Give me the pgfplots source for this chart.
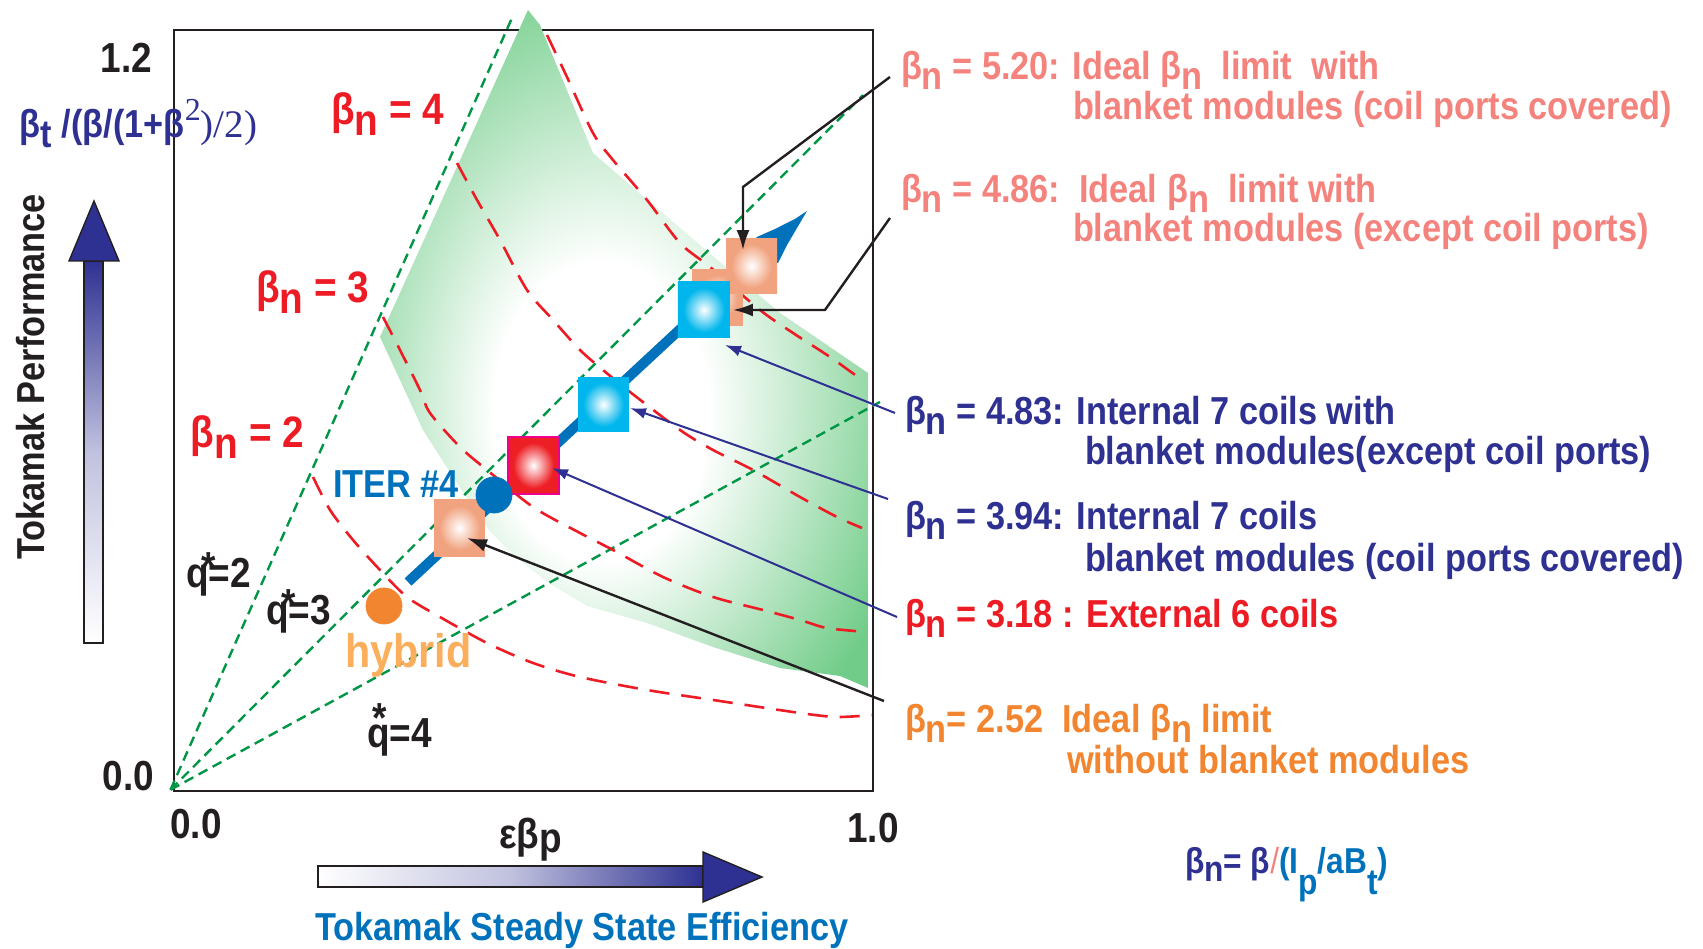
\documentclass[border=0pt]{standalone}
\usepackage{pgfplots}
\pgfplotsset{compat=1.18}
\usepackage{fontspec}
\setmainfont{Liberation Sans}[FakeStretch=0.88]
\newfontfamily\seriffont{Liberation Serif}
\usetikzlibrary{arrows.meta}

\definecolor{salmon}{RGB}{244,130,125}
\definecolor{navy}{RGB}{46,49,146}
\definecolor{redt}{RGB}{237,28,36}
\definecolor{oranget}{RGB}{242,133,48}
\definecolor{hybridc}{RGB}{251,175,93}
\definecolor{iterblue}{RGB}{0,114,188}
\definecolor{gdash}{RGB}{0,150,70}
\definecolor{gshade}{RGB}{112,204,136}
\definecolor{palesq}{RGB}{241,162,126}
\definecolor{cyansq}{RGB}{0,182,236}
\definecolor{redsq}{RGB}{237,30,36}
\definecolor{magb}{RGB}{236,0,140}
\definecolor{axgray}{RGB}{35,31,32}

\pgfdeclareradialshading{greenreg}{\pgfpoint{-3bp}{-6bp}}{color(0bp)=(white); color(11bp)=(white); color(32bp)=(gshade); color(50bp)=(gshade)}
\pgfdeclareradialshading{sqpale}{\pgfpoint{0bp}{0bp}}{color(0bp)=(white); color(20bp)=(palesq); color(50bp)=(palesq)}
\pgfdeclareradialshading{sqcyan}{\pgfpoint{0bp}{0bp}}{color(0bp)=(white); color(20bp)=(cyansq); color(50bp)=(cyansq)}
\pgfdeclareradialshading{sqred}{\pgfpoint{0bp}{0bp}}{color(0bp)=(white); color(20bp)=(redsq); color(50bp)=(redsq)}

\newcommand\fs[1]{\fontsize{#1}{#1}\selectfont\bfseries}
\newcommand\bn{β\raisebox{-0.25em}{n}}

\begin{document}
\begin{tikzpicture}
\useasboundingbox (-87pt,-78.5pt) rectangle (764.5pt,395.5pt);
\begin{axis}[
  at={(0,0)}, anchor=south west,
  scale only axis, width=349.5pt, height=380.5pt,
  xmin=0, xmax=1, ymin=0, ymax=1.25,
  xtick=\empty, ytick=\empty,
  axis line style={line width=1pt, color=axgray},
  clip=false, no markers,
]
% green operating region
\addplot[draw=none, shading=greenreg] coordinates {
 (0.5064,1.2829) (0.5236,1.2582) (0.5994,1.0480) (0.7525,0.8968) (0.8670,0.7852)
 (0.9928,0.6866) (0.9928,0.1692) (0.9528,0.1889) (0.8670,0.2020) (0.7711,0.2365)
 (0.6767,0.2760) (0.5908,0.3039) (0.5336,0.3433) (0.4850,0.3876) (0.4478,0.4320)
 (0.4020,0.5108) (0.3562,0.5930) (0.3233,0.6751) (0.2947,0.7457)} -- cycle;

% q* lines
\addplot[gdash, line width=1.2pt, dash pattern=on 5pt off 3pt] coordinates {(-0.005,0.002) (0.4835,1.2697)};
\addplot[gdash, line width=1.2pt, dash pattern=on 5pt off 3pt] coordinates {(-0.005,0.002) (0.9857,1.1432)};
\addplot[gdash, line width=1.2pt, dash pattern=on 5pt off 3pt] coordinates {(-0.005,0.002) (1.010,0.639)};

% beta_n contours
\addplot[redt, line width=1.3pt, dash pattern=on 10pt off 6pt, smooth] coordinates {
 (0.5336,1.2418) (0.5622,1.1728) (0.5994,1.0808) (0.6280,1.0365) (0.6767,0.9708)
 (0.7239,0.9001) (0.7668,0.8607) (0.8383,0.7901) (0.8856,0.7523) (0.9385,0.7129) (0.9843,0.6751)};
\addplot[redt, line width=1.3pt, dash pattern=on 10pt off 6pt, smooth] coordinates {
 (0.4049,1.0315) (0.4335,0.9708) (0.4664,0.9051) (0.5050,0.8229) (0.5422,0.7737)
 (0.5808,0.7244) (0.6137,0.6915) (0.6524,0.6554) (0.7239,0.5930) (0.7711,0.5601)
 (0.8283,0.5273) (0.8956,0.4829) (0.9485,0.4501) (0.9843,0.4320)};
\addplot[redt, line width=1.3pt, dash pattern=on 10pt off 6pt, smooth] coordinates {
 (0.2990,0.7786) (0.3233,0.7244) (0.3519,0.6587) (0.3662,0.6209) (0.4092,0.5650)
 (0.4478,0.5273) (0.5136,0.4665) (0.5808,0.4238) (0.6280,0.3959) (0.6996,0.3515)
 (0.7711,0.3187) (0.8426,0.2973) (0.8956,0.2809) (0.9342,0.2677) (0.9914,0.2612)};
\addplot[redt, line width=1.3pt, dash pattern=on 10pt off 6pt, smooth] coordinates {
 (0.1989,0.5158) (0.2232,0.4616) (0.2561,0.4123) (0.2947,0.3630) (0.3333,0.3187)
 (0.3805,0.2858) (0.4478,0.2431) (0.5136,0.2103) (0.5808,0.1873) (0.6767,0.1659)
 (0.7711,0.1495) (0.8956,0.1281) (0.9485,0.1216) (0.9986,0.1248)};

% ITER trajectory
\addplot[iterblue, line width=5pt] coordinates {(0.3348,0.3433) (0.8383,0.8804)};
\addplot[draw=none, fill=iterblue] coordinates {
 (0.8169,0.8886) (0.8340,0.9100) (0.8598,0.9231) (0.8884,0.9396) (0.9056,0.9527)
 (0.8913,0.9248) (0.8770,0.8968) (0.8641,0.8673) (0.8383,0.8689)} -- cycle;

% operating points
\addplot[only marks, mark=*, mark size=9pt, color=iterblue] coordinates {(0.4578,0.4862)};
\addplot[only marks, mark=*, mark size=9pt, color=oranget] coordinates {(0.3004,0.3039)};

% squares
\addplot[draw=none, shading=sqpale] coordinates {(0.7411,0.7654) (0.8140,0.7654) (0.8140,0.8574) (0.7411,0.8574)} -- cycle;
\addplot[draw=none, shading=sqpale] coordinates {(0.7897,0.8164) (0.8627,0.8164) (0.8627,0.9083) (0.7897,0.9083)} -- cycle;
\addplot[draw=none, shading=sqcyan] coordinates {(0.7210,0.7441) (0.7954,0.7441) (0.7954,0.8361) (0.7210,0.8361)} -- cycle;
\addplot[draw=none, shading=sqpale] coordinates {(0.3720,0.3860) (0.4449,0.3860) (0.4449,0.4780) (0.3720,0.4780)} -- cycle;
\addplot[draw=magb, line width=1pt, shading=sqred] coordinates {(0.4778,0.4878) (0.5508,0.4878) (0.5508,0.5815) (0.4778,0.5815)} -- cycle;
\addplot[draw=none, shading=sqcyan] coordinates {(0.5780,0.5897) (0.6509,0.5897) (0.6509,0.6800) (0.5780,0.6800)} -- cycle;

% annotation arrows
\addplot[axgray, line width=1.2pt, -{Latex[length=10pt,width=6.5pt]}] coordinates {(1.0243,1.1728) (0.8140,0.9921) (0.8140,0.8886)};
\addplot[axgray, line width=1.2pt, -{Latex[length=10pt,width=6.5pt]}] coordinates {(1.0243,0.9412) (0.9313,0.7901) (0.7997,0.7901)};
\addplot[navy, line width=1pt, -{Latex[length=8pt,width=5.5pt]}] coordinates {(1.0315,0.6209) (0.7883,0.7326)};
\addplot[navy, line width=1pt, -{Latex[length=8pt,width=5.5pt]}] coordinates {(1.0215,0.4796) (0.6524,0.6291)};
\addplot[navy, line width=1pt, -{Latex[length=8pt,width=5.5pt]}] coordinates {(1.0343,0.2858) (0.5408,0.5306)};
\addplot[axgray, line width=1.2pt, -{Latex[length=10pt,width=6.5pt]}] coordinates {(1.0157,0.1478) (0.4192,0.4156)};
\end{axis}

\begin{scope}[shift={(-87pt,395.5pt)}, x=0.5pt, y=-0.5pt]
\tikzset{every node/.style={inner sep=0pt, outer sep=0pt}}
% gradient arrows
\shade[top color=navy, bottom color=white, middle color=navy!30, draw=axgray, line width=0.7pt] (84,261) rectangle (103,643);
\filldraw[fill=navy, draw=axgray, line width=0.7pt] (69,261) -- (119,261) -- (94,201) -- cycle;
\shade[left color=white, right color=navy, middle color=navy!30, draw=axgray, line width=0.7pt] (318,866) rectangle (703,887);
\filldraw[fill=navy, draw=axgray, line width=0.7pt] (703,852) -- (703,902) -- (762,877) -- cycle;

% axis numbers
\node[anchor=base east, font=\fs{21}, text=axgray] at (152,73) {1.2};
\node[anchor=base east, font=\fs{21}, text=axgray] at (154,790) {0.0};
\node[anchor=base, font=\fs{21}, text=axgray] at (196,838) {0.0};
\node[anchor=base, font=\fs{21}, text=axgray] at (873,842) {1.0};
\node[anchor=base west, font=\fs{21}, text=axgray] at (499,848) {εβ\raisebox{-0.1em}{p}};

% left labels
\node[anchor=base west, font=\fs{19.5}, text=navy] at (20,138) {β\raisebox{-0.25em}{t}\ /(β/(1+β{\seriffont\mdseries\raisebox{0.45em}{\fontsize{16}{16}\selectfont 2})/2)}};
\node[anchor=base, rotate=90, font=\fs{19.5}, text=axgray] at (45,377) {Tokamak Performance};
\node[anchor=base west, font=\fs{19.5}, text=iterblue] at (315,940) {Tokamak Steady State Efficiency};

% in-plot labels
\node[anchor=base west, font=\fs{22}, text=redt] at (331,125) {\bn{} = 4};
\node[anchor=base west, font=\fs{22}, text=redt] at (256,303) {\bn{} = 3};
\node[anchor=base west, font=\fs{22}, text=redt] at (191,448) {\bn{} = 2};
\node[anchor=base west, font=\fs{19.5}, text=iterblue] at (333,498) {ITER \#4};
\node[anchor=base west, font=\fs{21}, text=axgray] at (186,588) {q\makebox[0pt][c]{\raisebox{0.15em}{*}}=2};
\node[anchor=base west, font=\fs{21}, text=axgray] at (266,625) {q\makebox[0pt][c]{\raisebox{0.15em}{*}}=3};
\node[anchor=base west, font=\fs{23.5}, text=hybridc] at (345,668) {hybrid};
\node[anchor=base west, font=\fs{21}, text=axgray] at (367,747) {\rlap{\kern0.12em\raisebox{0.35em}{*}}q=4};

% right annotations
\node[anchor=base west, font=\fs{19.5}, text=salmon] at (901,80) {\bn{} = 5.20: Ideal \bn{}\ \ limit\ \ with};
\node[anchor=base west, font=\fs{19.5}, text=salmon] at (1073,120) {blanket modules (coil ports covered)};
\node[anchor=base west, font=\fs{19.5}, text=salmon] at (901,203) {\bn{} = 4.86:\ \ Ideal \bn{}\ \ limit with};
\node[anchor=base west, font=\fs{19.5}, text=salmon] at (1073,242) {blanket modules (except coil ports)};
\node[anchor=base west, font=\fs{19.5}, text=navy] at (905,425) {\bn{} = 4.83: Internal 7 coils with};
\node[anchor=base west, font=\fs{19.5}, text=navy] at (1085,465) {blanket modules(except coil ports)};
\node[anchor=base west, font=\fs{19.5}, text=navy] at (905,530) {\bn{} = 3.94: Internal 7 coils};
\node[anchor=base west, font=\fs{19.5}, text=navy] at (1085,572) {blanket modules (coil ports covered)};
\node[anchor=base west, font=\fs{19.5}, text=redt] at (905,628) {\bn{} = 3.18 : External 6 coils};
\node[anchor=base west, font=\fs{19.5}, text=oranget] at (905,733) {\bn= 2.52\ \ Ideal \bn{} limit};
\node[anchor=base west, font=\fs{19.5}, text=oranget] at (1067,773) {without blanket modules};
\node[anchor=base west, font=\fs{18}] at (1185,873) {\textcolor{navy}{\bn= β}\textcolor{salmon}{\mdseries/}\textcolor{iterblue}{(I\raisebox{-0.6em}{p}/aB\raisebox{-0.6em}{t})}};
\end{scope}
\end{tikzpicture}
\end{document}
